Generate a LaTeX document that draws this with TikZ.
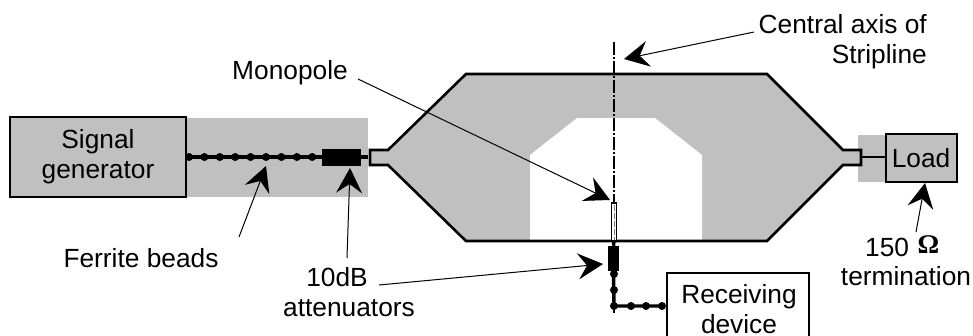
\documentclass[tikz,border=0pt]{standalone}
\usepackage{fontspec}
\setmainfont{Liberation Sans}
\newfontfamily\omegafont{Liberation Serif}
\usetikzlibrary{arrows.meta}
\definecolor{fillgrey}{gray}{0.753}
\tikzset{
  x=1pt,y=-1pt,
  txt/.style={inner sep=0pt,font=\fontsize{26.3}{30}\selectfont,align=center,anchor=base,text=black},
  boxed/.style={draw=black,line width=1.3pt,fill=fillgrey,inner sep=0pt},
  plainbox/.style={draw=black,line width=1.3pt,fill=white,inner sep=0pt},
  pointer/.style={draw=black,line width=1pt,-{Stealth[length=25pt,width=26pt,inset=9pt]}},
  wire/.style={draw=black,line width=3.4pt},
  thinwire/.style={draw=black,line width=2pt},
  outline/.style={draw=black,line width=2.6pt},
  bead/.style={circle,fill=black,inner sep=0pt,minimum size=8pt},
  atten/.style={fill=black,inner sep=0pt},
}
\begin{document}
\begin{tikzpicture}
\useasboundingbox (0,0) rectangle (973,335);
% grey bands
\fill[fillgrey] (186,118) rectangle (368,197);
\fill[fillgrey] (858,135) rectangle (886,182);
% stripline
\fill[fillgrey] (370,150) -- (388,150) -- (466,74) -- (767,74) -- (843,150) -- (861,150) -- (861,165) -- (843,165) -- (767,241) -- (466,241) -- (388,165) -- (370,165) -- cycle;
\fill[white] (577,118) -- (655,118) -- (702,155) -- (702,241) -- (530,241) -- (530,155) -- cycle;
\draw[outline,line join=miter] (767,74) -- (466,74) -- (388,150) -- (370,150) -- (370,165) -- (388,165) -- (466,241) -- (767,241) -- (843,165) -- (861,165) -- (861,150) -- (843,150) -- cycle;
% axis
\coordinate (axtop) at (614,42);
\coordinate (axbot) at (614,313);
\draw[black,line width=1.6pt,dash pattern=on 13pt off 2pt on 2pt off 2pt] (axtop) -- (axbot);
% boxes
\node[boxed,minimum width=176pt,minimum height=80pt] (sig) at (98,157) {};
\node[txt] at (98,178) {Signal\\generator};
\node[boxed,minimum width=71pt,minimum height=48pt] (load) at (921.5,158) {};
\node[txt] at (921,167) {Load};
\node[plainbox,minimum width=142pt,minimum height=72pt] (recv) at (738,309) {};
\node[txt] at (739,333) {Receiving\\device};
% input line
\node[atten,minimum width=39pt,minimum height=17pt] (att1) at (341.5,157.5) {};
\coordinate (inEnd) at (368,157);
\draw[wire] (sig.east |- inEnd) -- (att1.west |- inEnd);
\draw[wire] (att1.east |- inEnd) -- (inEnd);
\foreach \i/\px in {1/189,2/204.4,3/219.8,4/235.2,5/250.6,6/266,7/281.4,8/296.8,9/312.2}
  \node[bead] (b\i) at (\px,157) {};
% output line
\coordinate (outStart) at (861,157);
\draw[thinwire] (outStart) -- (outStart -| load.west);
% monopole
\node[draw=black,line width=1.3pt,fill=white,inner sep=0pt,minimum width=5.5pt,minimum height=38pt] (mono) at (614,222) {};
\draw[gray,line width=.7pt,dash pattern=on 6pt off 2pt] (614,205) -- (614,240);
% attenuator and lower line
\node[atten,minimum width=11pt,minimum height=25pt] (att2) at (613.5,258.5) {};
\node[bead] (c1) at (614,274) {};
\node[bead] (c2) at (614,290) {};
\node[bead] (c3) at (614,306) {};
\node[bead] (c4) at (631,306) {};
\node[bead] (c5) at (646,306) {};
\node[bead] (c6) at (662,306) {};
\draw[wire] (614,241) -- (att2.north);
\draw[wire] (att2.south) -- (c3.center) -- (c6.center);
% labels
\node[txt,anchor=base east,align=right] (central) at (927,63) {Central axis of\\Stripline};
\node[txt] (mon) at (290,79) {Monopole};
\node[txt] (fer) at (141,267) {Ferrite beads};
\node[txt] (db) at (349,316) {\mbox{10dB\kern24pt}\\attenuators};
\node[txt,anchor=base west] (ohm) at (865,256) {150};
\node[inner sep=0pt,font=\fontsize{27}{30}\selectfont\omegafont\bfseries,anchor=base] (om) at (928.5,253) {Ω};
\node[txt] (term) at (906,285) {termination};
% pointers
\coordinate (pa) at (266,166);
\coordinate (pb) at (350,168);
\coordinate (pc) at (610,200);
\coordinate (pd) at (603,264);
\coordinate (pe) at (624,59);
\coordinate (pf) at (925,183);
\draw[pointer] (239,237) -- (pa);
\draw[pointer] (347,258) -- (pb);
\draw[pointer] (358,79) -- (pc);
\draw[pointer] (379,285) -- (pd);
\draw[pointer] (754,32) -- (pe);
\draw[pointer] (916,232) -- (pf);
\end{tikzpicture}
\end{document}
